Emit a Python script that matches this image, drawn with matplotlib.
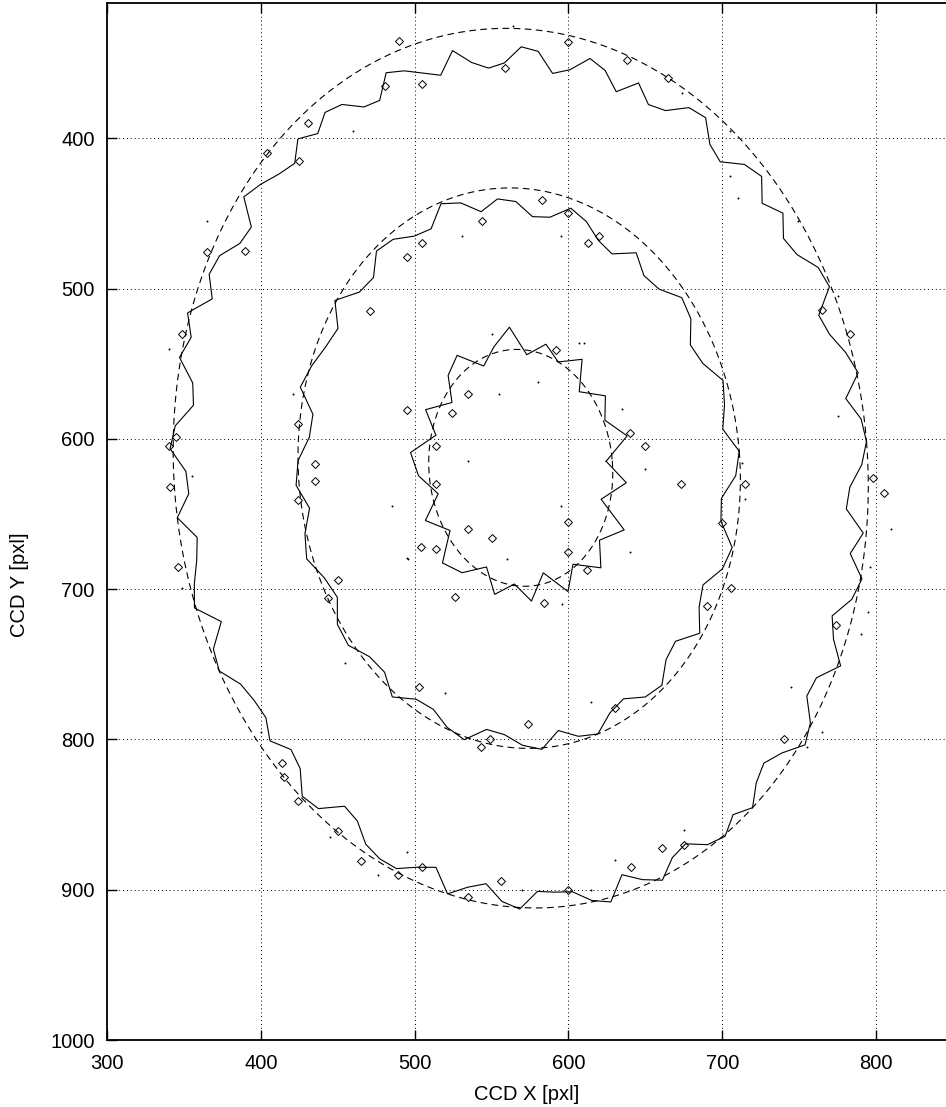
import numpy as np
import matplotlib
matplotlib.use("Agg")
import matplotlib.pyplot as plt

plt.rcParams['font.family'] = ['Liberation Sans', 'DejaVu Sans']

# fitted ellipses (dashed): centre, semi-axes [pxl], common tilt [deg]
ell_cx = [569.0, 568.0, 569.0]
ell_cy = [619.5, 619.5, 619.3]
ell_a = [225.5, 143.5, 59.7]
ell_b = [293.0, 186.7, 78.9]
ell_tilt = -4.5

# measured ring contours: deviation from the fitted ellipse [pxl],
# read at equal steps of the ellipse angle (0 = right, 90 = bottom)
outer_dev = [0, -4, -12, -14, -2, -9, 1, -3, -13, -8,
             2, -10, -11, -1, 3, -7, -13, -9, 0, -6,
             1, -2, -11, -8, 2, -4, -12, 3, -1, -9,
             -10, -11, 1, -3, -13, -8, 0, -14, -9, -2,
             -2, -5, -14, -16, -3, -1, -12, -15, -7, -13,
             -12, -9, 0, -2, -13, 1, -3, -8, -11, 0,
             -9, -8, 2, -1, -12, -10, 1, -4, 2, -11,
             -4, -6, -15, -17, -3, -8, -14, -18, -9, -16,
             -9, -12, -22, -24, -10, -14, -20, -25, -11, -21,
             -26, -23, -12, -14, -27, -22, -11, -15, -25, -13,
             -22, -19, -8, -6, -17, -20, -9, -5, -15, -7,
             -15, -12, -3, -1, -14, -11, -4, 1, -10, -2]
middle_dev = [0, -3, -12, -11, -1, -4, -13, -10, -2,
              -13, -11, -2, -4, -12, -9, 0, -3, -10,
              1, -2, -8, -9, 2, -1, -7, -6, 3,
              -5, -4, 3, 2, -6, -3, 4, 1, -5,
              2, 0, -7, -8, 3, -1, -6, -9, 1,
              -10, -12, -2, -4, -11, -13, -1, -5, -14,
              -7, -9, -18, -16, -6, -10, -17, -19, -8,
              -15, -13, -4, -6, -14, -11, -2, -5, -9]
inner_dev = [-4, 9, -6, 14, 2, 13, -2, 11, -7, 10, -1, 9,
             -5, 8, 13, -3, 9, -4, 7, 12, -3, 8, -6, 6,
             11, -5, 4, 15, -3, 7, 0, 11, -5, 8, 1, 12]

# small isolated closed contours
blob_x = [490, 559, 481, 505, 431, 425, 390, 471, 349, 544, 495, 505, 404, 365,
          600, 665, 638, 583, 600, 620, 613, 592, 765, 783,
          340, 345, 341, 346, 424, 424, 435, 435, 450, 444, 495, 504, 514, 514, 514, 503,
          700, 706, 690, 798, 805, 774, 740, 715,
          414, 415, 424, 450, 465, 489, 505, 535, 556, 549, 543,
          661, 675, 641, 600, 630, 574,
          535, 535, 550, 600, 600, 640, 673, 650, 612, 584, 526, 524]
blob_y = [335, 353, 365, 364, 390, 415, 475, 515, 530, 455, 479, 470, 410, 476,
          336, 360, 348, 441, 450, 465, 470, 541, 514, 530,
          605, 599, 632, 685, 590, 641, 617, 628, 694, 706, 581, 672, 673, 630, 605, 765,
          656, 699, 711, 626, 636, 724, 800, 630,
          816, 825, 841, 861, 881, 890, 885, 905, 894, 800, 805,
          872, 870, 885, 900, 779, 790,
          570, 660, 666, 655, 675, 596, 630, 605, 687, 709, 705, 583]
speck_x = [460, 365, 531, 550, 674, 705, 705, 710, 749, 775, 595, 610,
           355, 349, 485, 495, 455, 421, 520, 340,
           713, 715, 810, 796, 795, 790, 745, 765, 755, 775,
           445, 495, 476, 570, 400, 675, 615, 630, 615,
           607, 555, 535, 595, 560, 496, 635, 650, 640, 596, 564, 580]
speck_y = [395, 455, 465, 530, 370, 395, 425, 440, 455, 505, 465, 536,
           625, 699, 645, 679, 749, 570, 769, 540,
           616, 640, 660, 685, 715, 730, 765, 795, 805, 585,
           865, 875, 890, 900, 795, 860, 900, 880, 775,
           536, 570, 615, 645, 680, 680, 580, 620, 675, 710, 325, 562]


def ellipse_xy(cx, cy, a, b, tilt, t):
    p = np.deg2rad(tilt)
    x = cx + a * np.cos(t) * np.cos(p) - b * np.sin(t) * np.sin(p)
    y = cy + a * np.cos(t) * np.sin(p) + b * np.sin(t) * np.cos(p)
    return x, y


fig = plt.figure(figsize=(9.46, 11.07), dpi=100)
ax = fig.add_axes([107 / 946, 67 / 1107, 1 - 107 / 946, 1037 / 1107])

# ring contours
for i, dev in enumerate([outer_dev, middle_dev, inner_dev]):
    d = np.array(dev + dev[:1], dtype=float)
    t = np.linspace(0, 2 * np.pi, len(dev) + 1)
    x, y = ellipse_xy(ell_cx[i], ell_cy[i], ell_a[i] + d, ell_b[i] + d, ell_tilt, t)
    ax.plot(x, y, color="black", lw=0.8, zorder=3)

# fitted ellipses
tt = np.linspace(0, 2 * np.pi, 600)
for i in range(3):
    x, y = ellipse_xy(ell_cx[i], ell_cy[i], ell_a[i], ell_b[i], ell_tilt, tt)
    ax.plot(x, y, color="black", lw=0.8, ls=(0, (6, 4)), zorder=3)

ax.plot(blob_x, blob_y, "D", mfc="none", mec="black", ms=4.3, mew=0.7, zorder=3)
ax.plot(speck_x, speck_y, "o", color="black", ms=1.4, mew=0, zorder=3)

ax.set_xlim(300, 845.5)
ax.set_ylim(1000, 310)
ax.set_xticks([300, 400, 500, 600, 700, 800])
ax.set_yticks([400, 500, 600, 700, 800, 900, 1000])
ax.grid(True, color="black", lw=0.7, ls=(0, (1, 3)))
ax.tick_params(direction="in", length=7, width=1, top=True, right=False,
               labelsize=14.5, pad=10)
ax.tick_params(axis="y", pad=9)
for side in ["left", "bottom", "top"]:
    ax.spines[side].set_linewidth(1.3)
ax.spines["right"].set_visible(False)

ax.set_xlabel("CCD X [pxl]", fontsize=14.5)
ax.set_ylabel("CCD Y [pxl]", fontsize=14.5)
ax.xaxis.set_label_coords(0.5, (1040 - 1095) / 1037)
ax.xaxis.label.set_va("center")
ax.yaxis.set_label_coords((20 - 107) / 839, (1040 - 585) / 1037)
ax.yaxis.label.set_va("center")
ax.yaxis.label.set_ha("center")

fig.savefig("out.png", dpi=100)
